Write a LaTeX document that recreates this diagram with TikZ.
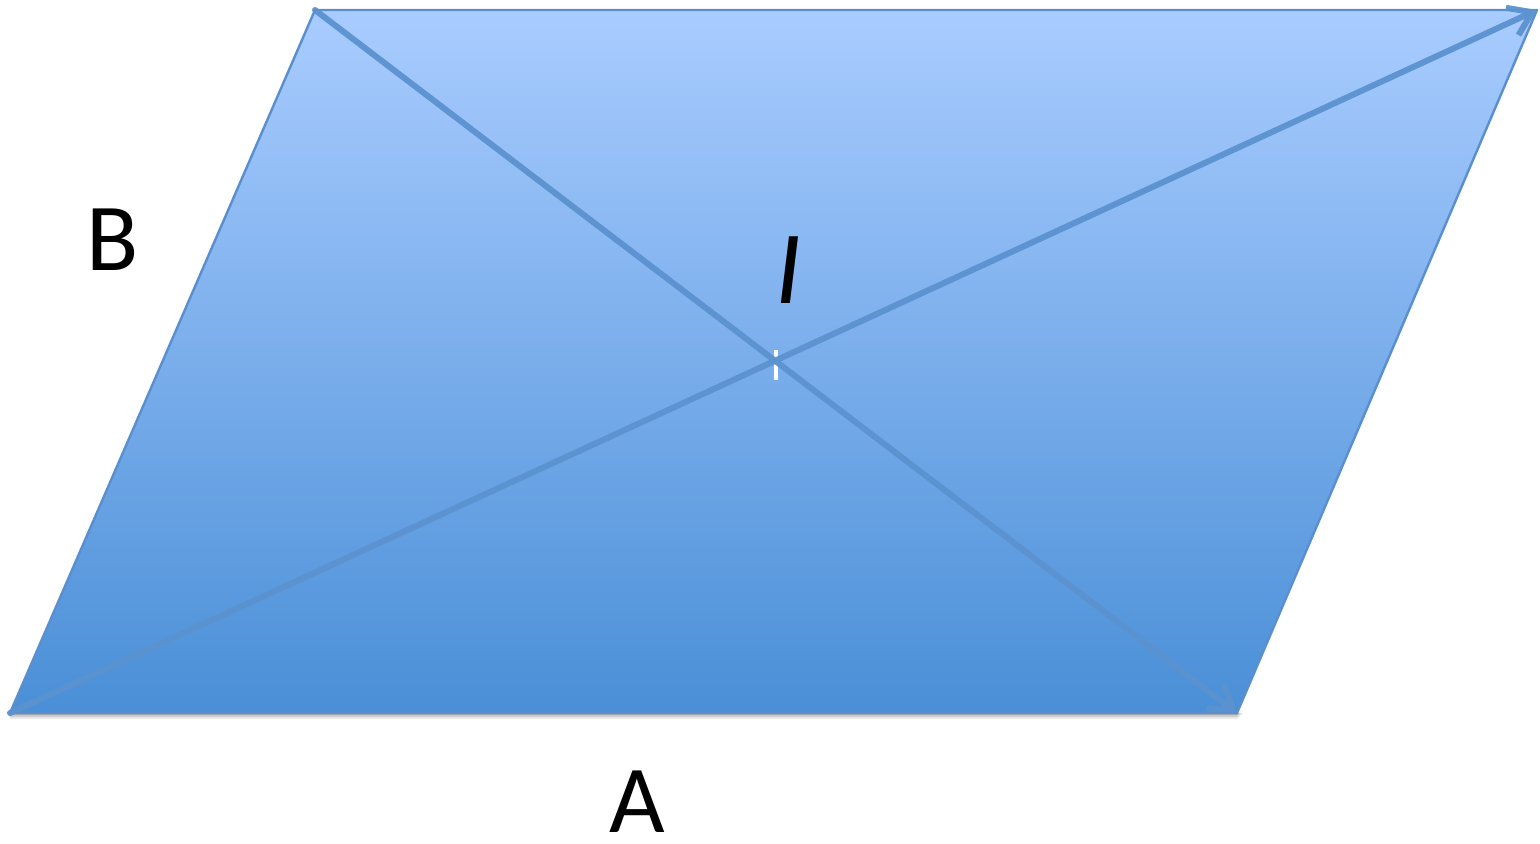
\documentclass[tikz,border=0pt]{standalone}
\usepackage{fontspec}
\setmainfont{Carlito}
\usetikzlibrary{arrows.meta}
\definecolor{topblue}{HTML}{A9CCFF}
\definecolor{botblue}{HTML}{4A8FD7}
\definecolor{edgeblue}{HTML}{5A8FCF}
\definecolor{diagblue}{HTML}{5B92CF}
\tikzset{
  diag/.style={draw=diagblue, line width=3pt, line cap=round,
    -{Straight Barb[length=11pt,width=15pt,line width=3pt]}},
  lbl/.style={inner sep=0pt, font=\fontsize{48}{56}\selectfont, text=black},
}
\begin{document}
\begin{tikzpicture}[x=0.5pt,y=-0.5pt]
\useasboundingbox (0,0) rectangle (1540,844);
\coordinate (BL) at (10,713);
\coordinate (BR) at (1237,713);
\coordinate (TR) at (1537,10);
\coordinate (TL) at (315,10);
% shadow
\foreach \o/\a in {6/0.08,4/0.12,2/0.18}{
  \fill[black,opacity=\a] ([shift={(0,\o)}]BL) -- ([shift={(0,\o)}]BR) -- ([shift={(\o,0)}]BR) -- (BR) -- (BL) -- cycle;
}
\shade[top color=topblue, bottom color=botblue] (BL) -- (BR) -- (TR) -- (TL) -- cycle;
\draw[edgeblue, line width=1.2pt, line join=round] (BL) -- (BR) -- (TR) -- (TL) -- cycle;
% white tick at crossing
\coordinate (tickA) at (776,350);
\coordinate (tickB) at (776,380);
\draw[white, line width=1.6pt] (tickA) -- (tickB);
% diagonals
\draw[diag, opacity=0.95] (BL) -- (TR);
\draw[diag, opacity=0.95] (TL) -- (BR);
% labels
\node[lbl] (labB) at (113,240) {B};
\node[lbl] (labA) at (637,802) {A};
\node[lbl, font=\fontsize{52}{60}\selectfont\itshape] (labI) at (789,270) {I};
\end{tikzpicture}
\end{document}
